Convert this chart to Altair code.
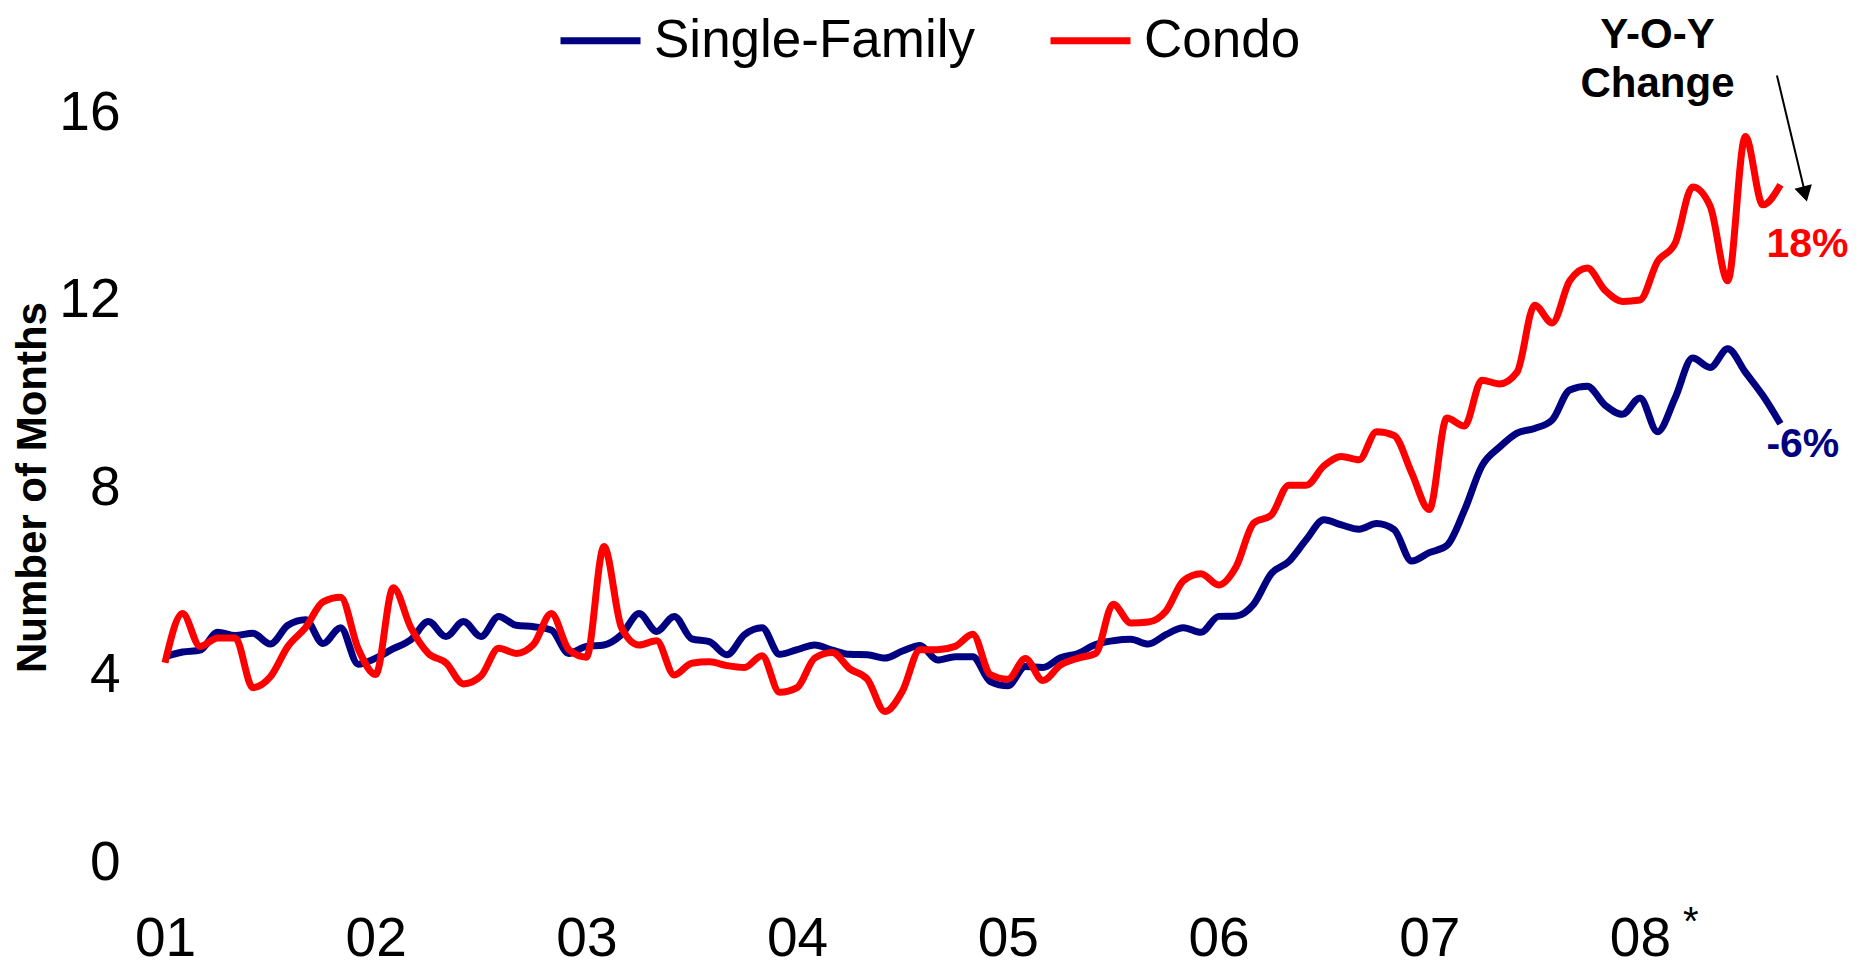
import altair as alt
import pandas as pd

# ---------------- data ----------------
months = pd.date_range("2001-01-01", "2008-09-01", freq="MS").strftime("%Y-%m").tolist()

single_family = [
    4.38, 4.48, 4.52, 4.90, 4.83, 4.88, 4.65, 5.05, 5.17, 4.66,
    5.00, 4.22, 4.35, 4.55, 4.74, 5.13, 4.81, 5.13, 4.81, 5.24,
    5.05, 5.02, 4.95, 4.45, 4.60, 4.63, 4.85, 5.30, 4.92, 5.24,
    4.76, 4.70, 4.42, 4.85, 5.00, 4.43, 4.53, 4.63, 4.52, 4.43,
    4.42, 4.35, 4.50, 4.62, 4.31, 4.38, 4.38, 3.85, 3.76, 4.17,
    4.15, 4.36, 4.45, 4.64, 4.72, 4.75, 4.65, 4.85, 5.00, 4.90,
    5.24, 5.25, 5.50, 6.15, 6.41, 6.88, 7.30, 7.19, 7.10, 7.22,
    7.09, 6.42, 6.60, 6.75, 7.50, 8.45, 8.85, 9.15, 9.25, 9.43,
    10.07, 10.15, 9.75, 9.55, 9.90, 9.18, 9.90, 10.75, 10.55, 10.95,
    10.45, 9.95, 9.35,
]

condo = [
    4.25, 5.30, 4.60, 4.78, 4.78, 3.72, 3.95, 4.60, 5.00, 5.55,
    5.65, 4.55, 4.00, 5.85, 5.00, 4.45, 4.25, 3.80, 3.97, 4.56,
    4.45, 4.65, 5.30, 4.53, 4.37, 6.73, 5.00, 4.63, 4.72, 3.99,
    4.24, 4.27, 4.19, 4.15, 4.40, 3.62, 3.72, 4.35, 4.47, 4.12,
    3.90, 3.21, 3.65, 4.53, 4.53, 4.60, 4.86, 4.00, 3.90, 4.34,
    3.87, 4.20, 4.35, 4.45, 5.50, 5.10, 5.12, 5.35, 6.00, 6.15,
    5.91, 6.30, 7.23, 7.40, 8.04, 8.04, 8.45, 8.65, 8.58, 9.18,
    9.10, 8.30, 7.52, 9.47, 9.30, 10.28, 10.20, 10.45, 11.88, 11.50,
    12.40, 12.67, 12.20, 11.96, 11.99, 12.81, 13.20, 14.40, 13.99, 12.40,
    15.48, 14.02, 14.45,
]

series_names = ["Single-Family", "Condo"]
series_colors = ["#000080", "#FF0000"]
year_ticks = [0, 12, 24, 36, 48, 60, 72, 84]
y_ticks = [0, 4, 8, 12, 16]

# annotations (x in months since Jan 2001, y in number of months)
yoy_text = ["Y-O-Y", "Change"]
yoy_x = [85.0, 85.0]
yoy_y = [17.37, 16.33]

pct_text = ["18%", "-6%"]
pct_x = [91.2, 91.2]
pct_y = [12.91, 8.64]
pct_color = ["#FF0000", "#000080"]

arrow_x = [91.8]
arrow_x2 = [93.35]
arrow_y = [16.78]
arrow_y2 = [14.35]
head_x = [93.4]
head_y = [14.25]

star_x = [86.9]
star_y = [-1.3]

# ---------------- build ----------------
idx = [(int(s[:4]) - 2001) * 12 + int(s[5:7]) - 1 for s in months]
df = pd.DataFrame({
    "m": idx + idx,
    "v": single_family + condo,
    "series": [series_names[0]] * len(idx) + [series_names[1]] * len(idx),
})

FONT = "Liberation Sans"
xscale = alt.Scale(domain=[0, 93], nice=False, zero=False)
yscale = alt.Scale(domain=[0, 16], nice=False)

lines = alt.Chart(df).mark_line(strokeWidth=7, interpolate="monotone").encode(
    x=alt.X("m:Q", scale=xscale, axis=alt.Axis(
        values=year_ticks,
        labelExpr="format(datum.value / 12 + 1, '02d')",
        labelFontSize=55, labelFont=FONT, labelColor="black",
        ticks=False, tickSize=0, domain=False, grid=False,
        labelPadding=93, labelBaseline="alphabetic", labelFlush=False,
        title=None)),
    y=alt.Y("v:Q", scale=yscale, axis=alt.Axis(
        values=y_ticks, labelFontSize=55, labelFont=FONT, labelColor="black",
        ticks=False, tickSize=0, domain=False, grid=False, labelPadding=45,
        labelFlush=False,
        title="Number of Months", titleFont=FONT, titleFontSize=42,
        titleFontWeight="bold", titleColor="black", titleAngle=270,
        titleAlign="center", titleBaseline="middle", titleX=-133, titleY=375)),
    color=alt.Color("series:N",
                    scale=alt.Scale(domain=series_names, range=series_colors),
                    legend=alt.Legend(
                        orient="none", legendX=392, legendY=-115,
                        direction="horizontal", title=None,
                        labelFontSize=53, labelFont=FONT, labelColor="black",
                        symbolType="stroke", symbolSize=6400, symbolStrokeWidth=7,
                        labelLimit=1000, columnPadding=60, labelOffset=10,
                        padding=0)),
)

yoy_df = pd.DataFrame({"m": yoy_x, "v": yoy_y, "t": yoy_text})
yoy = alt.Chart(yoy_df).mark_text(
    font=FONT, fontSize=42, fontWeight="bold", color="black",
    align="center", baseline="alphabetic").encode(
    x=alt.X("m:Q", scale=xscale), y=alt.Y("v:Q", scale=yscale), text="t:N")

pct_df = pd.DataFrame({"m": pct_x, "v": pct_y, "t": pct_text, "c": pct_color})
pct = alt.Chart(pct_df).mark_text(
    font=FONT, fontSize=41, fontWeight="bold",
    align="left", baseline="alphabetic").encode(
    x=alt.X("m:Q", scale=xscale), y=alt.Y("v:Q", scale=yscale), text="t:N",
    color=alt.Color("c:N", scale=None))

arrow_df = pd.DataFrame({"m": arrow_x, "m2": arrow_x2, "v": arrow_y, "v2": arrow_y2})
arrow = alt.Chart(arrow_df).mark_rule(color="black", strokeWidth=2).encode(
    x=alt.X("m:Q", scale=xscale), x2="m2:Q",
    y=alt.Y("v:Q", scale=yscale), y2="v2:Q")

head_df = pd.DataFrame({"m": head_x, "v": head_y})
head = alt.Chart(head_df).mark_point(
    shape="triangle-down", filled=True, color="black", size=320, angle=346,
    opacity=1).encode(
    x=alt.X("m:Q", scale=xscale), y=alt.Y("v:Q", scale=yscale))

star_df = pd.DataFrame({"m": star_x, "v": star_y, "t": ["*"]})
star = alt.Chart(star_df).mark_text(
    font=FONT, fontSize=40, color="black", align="center", baseline="middle").encode(
    x=alt.X("m:Q", scale=xscale), y=alt.Y("v:Q", scale=yscale), text="t:N")

chart = alt.layer(lines, yoy, pct, arrow, head, star).properties(
    width=1633, height=750,
    padding={"left": 157, "top": 104, "right": 52, "bottom": 108},
    autosize=alt.AutoSizeParams(type="none"),
    background="white",
).configure_view(stroke=None)

chart.save("out.html", embed_options={"renderer": "svg", "actions": False})
